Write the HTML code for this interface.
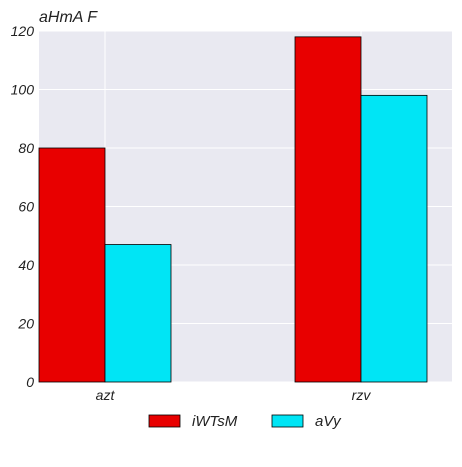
<!DOCTYPE html>
<html><head><meta charset="utf-8"><style>
body{margin:0;background:#fff;}
svg text{font-family:"Liberation Sans",sans-serif;font-style:italic;fill:#222;}
</style></head><body>
<svg id="chart" width="462" height="462">
<rect x="39" y="31" width="413" height="351" fill="#e9e9f1"/>
<g id="grid"></g><g id="bars"></g><g id="ticks"></g>
<text x="39" y="22" font-size="16">aHmA F</text>
<g>
<rect x="149" y="415" width="31" height="12" fill="#e80000" stroke="#000" stroke-width="0.8"/>
<text x="192" y="426" font-size="15">iWTsM</text>
<rect x="272" y="415" width="31" height="12" fill="#00e5f5" stroke="#000" stroke-width="0.8"/>
<text x="315" y="426" font-size="15">aVy</text>
</g>
</svg>
<script>
const categories=["azt","rzv"];
const seriesA=[80,118];
const seriesB=[47,98];
const yTicks=[0,20,40,60,80,100,120];
const NS="http://www.w3.org/2000/svg";
const y=v=>382-v*351/120;
const xc=i=>105+256*i;
const bw=66;
function mk(tag,attrs,parent){const e=document.createElementNS(NS,tag);for(const k in attrs)e.setAttribute(k,attrs[k]);parent.appendChild(e);return e;}
const grid=document.getElementById('grid'),bars=document.getElementById('bars'),ticks=document.getElementById('ticks');
yTicks.forEach(t=>{
 const l=mk('line',{x1:39,x2:452,y1:y(t),y2:y(t),stroke:'#fff','stroke-width':1},grid);
 
 
 const tx=mk('text',{x:34,y:y(t)+5,'text-anchor':'end','font-size':14},ticks);
 tx.textContent=t;
 
 
});
categories.forEach((c,i)=>{
 const g=mk('line',{x1:xc(i),x2:xc(i),y1:31,y2:382,stroke:'#fff','stroke-width':1},grid);
 
 
 const a=mk('rect',{x:xc(i)-bw,y:y(seriesA[i]),width:bw,height:382-y(seriesA[i]),fill:'#e80000',stroke:'#000','stroke-width':0.8},bars);
 
 
 const b=mk('rect',{x:xc(i),y:y(seriesB[i]),width:bw,height:382-y(seriesB[i]),fill:'#00e5f5',stroke:'#000','stroke-width':0.8},bars);
 
 
 const t=mk('text',{x:xc(i),y:400,'text-anchor':'middle','font-size':14},ticks);
 t.textContent=c;
 
 
});
</script>
</body></html>
